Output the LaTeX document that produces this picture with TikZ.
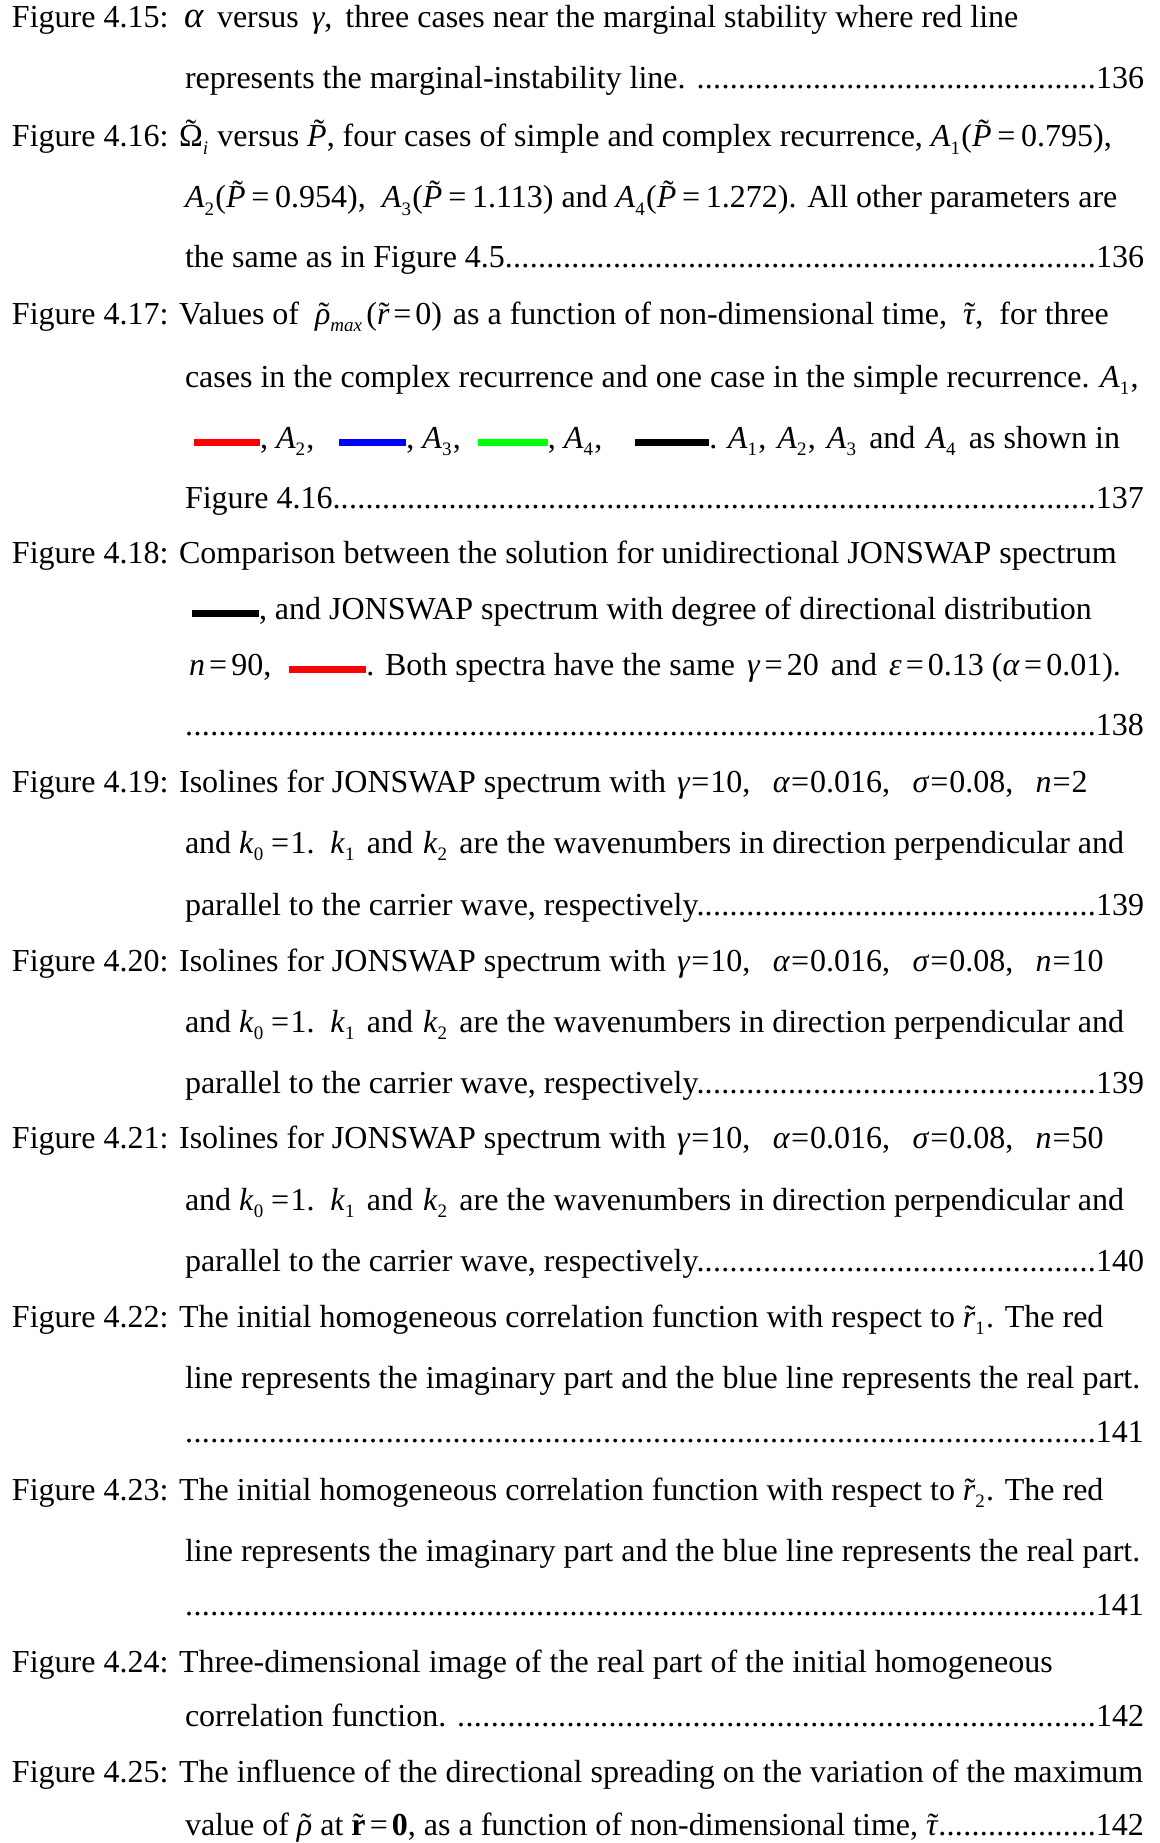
\documentclass[tikz,border=0pt]{standalone}
\usepackage{fontspec}
\setmainfont{Liberation Serif}
\usepackage{xcolor}
\usepackage{graphicx}
\newcommand\mi[1]{\textit{#1}}
\newcommand\mysub[1]{\raisebox{-0.22em}{\fontsize{19}{19}\selectfont #1}\kern0.04em\relax}
\newcommand\tld[3]{\ooalign{#3\cr\hidewidth\kern#1\raisebox{#2}{\char"02DC}\hidewidth\cr}}
\newcommand\myeq{\kern0.18em=\kern0.18em\relax}
\newcommand\teq{\kern0.03em=\kern0.03em\relax}
\newcommand\meq{\kern0.13em=\kern0.13em\relax}
\newcommand\lbar[2]{\textcolor{#1}{\rule[0.07em]{#2}{0.22em}}}
\newcommand\dleader{\xleaders\hbox to 8.3pt{\hss.\hss}\hfill}
\newcommand\Pt{\tld{0.12em}{0.17em}{\mi{P}}}
\newcommand\rt{\tld{0.05em}{0pt}{\mi{r}}}
\newcommand\rhot{\tld{0.08em}{0pt}{\mi{ρ}}}
\newcommand\taut{\tld{0.05em}{0pt}{\mi{τ}}}
\newcommand\gap{\hspace{0.7em}}
\tikzset{ln/.style={anchor=base west, inner sep=0pt, outer sep=0pt, font=\fontsize{32}{38}\selectfont}}
\begin{document}
\begin{tikzpicture}[x=1pt,y=-1pt]
\useasboundingbox[fill=white] (0,0) rectangle (1159,1843);
% 4.15
\node[ln] (l1) at (12,28) {Figure 4.15: \kern5pt\scalebox{1.15}{\mi{α}}\kern5pt{} versus \kern5pt\mi{γ}, \kern5pt three cases near the marginal stability where red line};
\node[ln] (l2) at (185,89) {\hbox to 959pt{represents the marginal-instability line. \dleader 136}};
% 4.16
\node[ln] (l3) at (12,147) {Figure 4.16: \tld{0pt}{0.17em}{Ω}\mysub{\mi{i}} versus \Pt, four cases of simple and complex recurrence, \mi{A}\mysub{1}(\Pt\myeq0.795),};
\node[ln] (l4) at (185,208) {\mi{A}\mysub{2}(\Pt\myeq0.954), \ \mi{A}\mysub{3}(\Pt\myeq1.113) and \mi{A}\mysub{4}(\Pt\myeq1.272). All other parameters are};
\node[ln] (l5) at (185,268) {\hbox to 959pt{the same as in Figure 4.5.\dleader 136}};
% 4.17
\node[ln] (l6) at (12,324) {Figure 4.17: Values of \kern8pt\rhot\mysub{\mi{max}}\kern3pt(\rt\kern0.12em=\kern0.12em0)\kern3pt{} as a function of non-dimensional time, \kern8pt\taut, \kern8pt for three};
\node[ln] (l7) at (185,387) {cases in the complex recurrence and one case in the simple recurrence. \mi{A}\mysub{1},};
\node[ln] (l8) at (185,448) {\kern9pt\lbar{red}{66pt}, \mi{A}\mysub{2}, \kern17pt\lbar{blue}{67pt}, \mi{A}\mysub{3}, \kern9pt\lbar{green}{70pt}, \mi{A}\mysub{4}, \kern25pt\lbar{black}{74pt}. \mi{A}\mysub{1}, \kern3pt\mi{A}\mysub{2}, \kern3pt\mi{A}\mysub{3}\kern4pt{} and \kern3pt\mi{A}\mysub{4}\kern4pt{} as shown in};
\node[ln] (l9) at (185,508) {\hbox to 959pt{Figure 4.16.\dleader 137}};
% 4.18
\node[ln] (l10) at (12,563) {Figure 4.18: Comparison between the solution for unidirectional JONSWAP spectrum};
\node[ln] (l11) at (185,619) {\kern7pt\lbar{black}{67pt}, and JONSWAP spectrum with degree of directional distribution};
\node[ln] (l12) at (185,675) {\kern4pt\mi{n}\meq90, \kern10pt\lbar{red}{77pt}. Both spectra have the same \kern4pt\mi{γ}\meq20 \kern4pt and \kern4pt\mi{ε}\meq0.13 (\mi{α}\meq0.01).};
\node[ln] (l13) at (185,735) {\hbox to 959pt{\dleader 138}};
% 4.19
\node[ln] (l14) at (12,792) {Figure 4.19: Isolines for JONSWAP spectrum with \kern3pt\mi{γ}\teq10,\gap\mi{α}\teq0.016,\gap\mi{σ}\teq0.08,\gap\mi{n}\teq2};
\node[ln] (l15) at (185,853) {and \mi{k}\mysub{0}\kern0.2em=\kern0.05em1. \kern5pt\mi{k}\mysub{1}\kern3pt{} and \kern2pt\mi{k}\mysub{2}\kern3pt{} are the wavenumbers in direction perpendicular and};
\node[ln] (l16) at (185,915) {\hbox to 959pt{parallel to the carrier wave, respectively.\dleader 139}};
% 4.20
\node[ln] (l17) at (12,971) {Figure 4.20: Isolines for JONSWAP spectrum with \kern3pt\mi{γ}\teq10,\gap\mi{α}\teq0.016,\gap\mi{σ}\teq0.08,\gap\mi{n}\teq10};
\node[ln] (l18) at (185,1032) {and \mi{k}\mysub{0}\kern0.2em=\kern0.05em1. \kern5pt\mi{k}\mysub{1}\kern3pt{} and \kern2pt\mi{k}\mysub{2}\kern3pt{} are the wavenumbers in direction perpendicular and};
\node[ln] (l19) at (185,1093) {\hbox to 959pt{parallel to the carrier wave, respectively.\dleader 139}};
% 4.21
\node[ln] (l20) at (12,1148) {Figure 4.21: Isolines for JONSWAP spectrum with \kern3pt\mi{γ}\teq10,\gap\mi{α}\teq0.016,\gap\mi{σ}\teq0.08,\gap\mi{n}\teq50};
\node[ln] (l21) at (185,1210) {and \mi{k}\mysub{0}\kern0.2em=\kern0.05em1. \kern5pt\mi{k}\mysub{1}\kern3pt{} and \kern2pt\mi{k}\mysub{2}\kern3pt{} are the wavenumbers in direction perpendicular and};
\node[ln] (l22) at (185,1271) {\hbox to 959pt{parallel to the carrier wave, respectively.\dleader 140}};
% 4.22
\node[ln] (l23) at (12,1327) {Figure 4.22: The initial homogeneous correlation function with respect to \rt\mysub{1}. The red};
\node[ln] (l24) at (185,1388) {line represents the imaginary part and the blue line represents the real part.};
\node[ln] (l25) at (185,1442) {\hbox to 959pt{\dleader 141}};
% 4.23
\node[ln] (l26) at (12,1500) {Figure 4.23: The initial homogeneous correlation function with respect to \rt\mysub{2}. The red};
\node[ln] (l27) at (185,1561) {line represents the imaginary part and the blue line represents the real part.};
\node[ln] (l28) at (185,1615) {\hbox to 959pt{\dleader 141}};
% 4.24
\node[ln] (l29) at (12,1672) {Figure 4.24: Three-dimensional image of the real part of the initial homogeneous};
\node[ln] (l30) at (185,1726) {\hbox to 959pt{correlation function. \dleader 142}};
% 4.25
\node[ln] (l31) at (12,1782) {Figure 4.25: The influence of the directional spreading on the variation of the maximum};
\node[ln] (l32) at (185,1835) {\hbox to 959pt{value of \rhot{} at \tld{0pt}{0pt}{\textbf{r}}\meq\textbf{0}, as a function of non-dimensional time, \taut.\dleader 142}};
\end{tikzpicture}
\end{document}
